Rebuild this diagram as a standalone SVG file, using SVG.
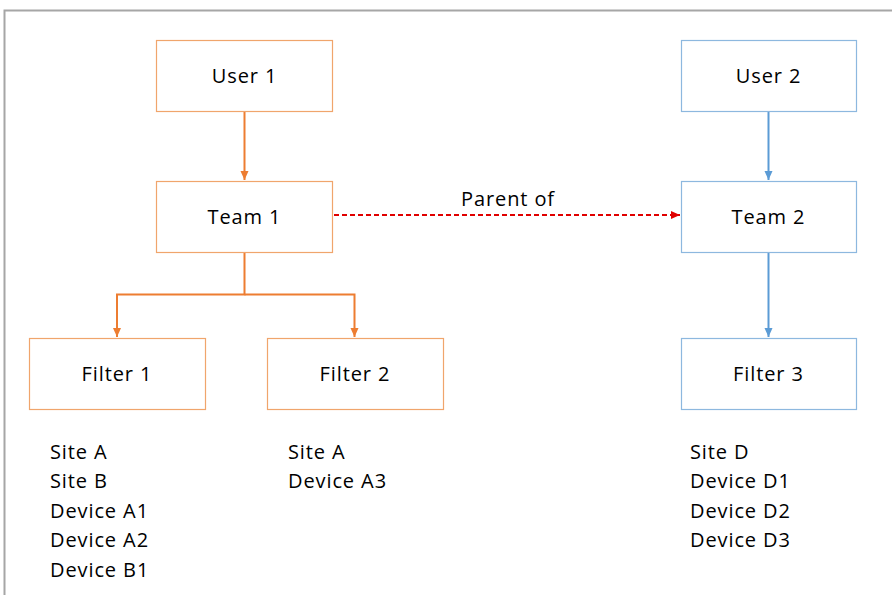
<svg xmlns="http://www.w3.org/2000/svg" width="892" height="595" viewBox="0 0 892 595">
  <defs>
    <style>
      text { font-family: "Open Sans", "Noto Sans", sans-serif; font-size: 20px; letter-spacing: 0.9px; fill: #000; }
      .lbl { text-anchor: middle; }
      .box-o { fill: #fff; stroke: #F0A56C; stroke-width: 1.2; }
      .box-b { fill: #fff; stroke: #8DB8DF; stroke-width: 1.2; }
      .ln-o { fill: none; stroke: #ED7D31; stroke-width: 2; }
      .ln-b { fill: none; stroke: #5B9BD5; stroke-width: 2; }
      .ln-r { fill: none; stroke: #E00000; stroke-width: 2; stroke-dasharray: 5 3; }
    </style>
    <marker id="ah-o" markerWidth="10" markerHeight="10" refX="9" refY="5" orient="auto" markerUnits="userSpaceOnUse">
      <path d="M0,1 L9,5 L0,9 Z" fill="#ED7D31"/>
    </marker>
    <marker id="ah-b" markerWidth="10" markerHeight="10" refX="9" refY="5" orient="auto" markerUnits="userSpaceOnUse">
      <path d="M0,1 L9,5 L0,9 Z" fill="#5B9BD5"/>
    </marker>
    <marker id="ah-r" markerWidth="10" markerHeight="10" refX="9" refY="5" orient="auto" markerUnits="userSpaceOnUse">
      <path d="M0,1 L9,5 L0,9 Z" fill="#E00000"/>
    </marker>
  </defs>

  <rect width="892" height="595" fill="#fff"/>
  <!-- frame -->
  <path d="M4.5,595 L4.5,10.5 L892,10.5" fill="none" stroke="#A6A6A6" stroke-width="2"/>

  <g id="connectors">
    <line class="ln-o" x1="244.5" y1="112" x2="244.5" y2="180" marker-end="url(#ah-o)"/>
    <path class="ln-o" d="M244.5,253 L244.5,294.5 L117,294.5 L117,337" marker-end="url(#ah-o)"/>
    <path class="ln-o" d="M244.5,294.5 L354.5,294.5 L354.5,337" marker-end="url(#ah-o)"/>
    <line class="ln-b" x1="768.5" y1="112" x2="768.5" y2="180" marker-end="url(#ah-b)"/>
    <line class="ln-b" x1="768.5" y1="253" x2="768.5" y2="337" marker-end="url(#ah-b)"/>
    <line class="ln-r" x1="334" y1="215" x2="680" y2="215" marker-end="url(#ah-r)"/>
    <text class="lbl" x="508" y="206">Parent of</text>
  </g>

  <g id="user1">
    <rect class="box-o" x="156.5" y="40.5" width="176" height="71"/>
    <text class="lbl" x="244.5" y="83">User 1</text>
  </g>
  <g id="team1">
    <rect class="box-o" x="156.5" y="181.5" width="176" height="71"/>
    <text class="lbl" x="244.5" y="224">Team 1</text>
  </g>
  <g id="filter1">
    <rect class="box-o" x="29.5" y="338.5" width="176" height="71"/>
    <text class="lbl" x="117" y="381">Filter 1</text>
  </g>
  <g id="filter2">
    <rect class="box-o" x="267.5" y="338.5" width="176" height="71"/>
    <text class="lbl" x="355" y="381">Filter 2</text>
  </g>
  <g id="user2">
    <rect class="box-b" x="681.5" y="40.5" width="175" height="71"/>
    <text class="lbl" x="768.5" y="83">User 2</text>
  </g>
  <g id="team2">
    <rect class="box-b" x="681.5" y="181.5" width="175" height="71"/>
    <text class="lbl" x="768.5" y="224">Team 2</text>
  </g>
  <g id="filter3">
    <rect class="box-b" x="681.5" y="338.5" width="175" height="71"/>
    <text class="lbl" x="768.5" y="381">Filter 3</text>
  </g>

  <g id="list1">
    <text x="50" y="459">Site A</text>
    <text x="50" y="488">Site B</text>
    <text x="50" y="518">Device A1</text>
    <text x="50" y="547">Device A2</text>
    <text x="50" y="577">Device B1</text>
  </g>
  <g id="list2">
    <text x="288" y="459">Site A</text>
    <text x="288" y="488">Device A3</text>
  </g>
  <g id="list3">
    <text x="690" y="459">Site D</text>
    <text x="690" y="488">Device D1</text>
    <text x="690" y="518">Device D2</text>
    <text x="690" y="547">Device D3</text>
  </g>
</svg>
